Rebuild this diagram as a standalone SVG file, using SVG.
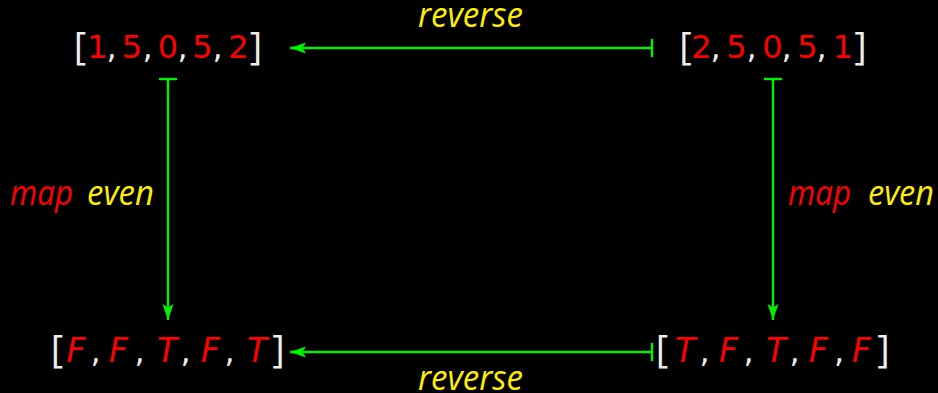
<svg xmlns="http://www.w3.org/2000/svg" width="938" height="393" viewBox="0 0 938 393">
<style>
.num{font-family:"DejaVu Sans",sans-serif;font-size:32px;fill:#ff0000;text-anchor:middle}
.var{font-family:"DejaVu Sans",sans-serif;font-style:italic;font-size:33px;fill:#ff0000;text-anchor:middle}
.pun{font-family:"DejaVu Sans",sans-serif;font-size:32px;fill:#eeeeee;text-anchor:middle}
.br{font-family:"Open Sans",sans-serif;font-size:38px;fill:#eeeeee;text-anchor:middle}
.lbl{font-family:"Open Sans",sans-serif;font-style:italic;font-size:35px}
.red{fill:#ff0000}
.yel{fill:#ffee00}
.conn{stroke:#00f000;stroke-width:2.4;fill:none}
</style>
<defs>
<marker id="head" viewBox="0 0 16 12" refX="16" refY="6" markerWidth="16" markerHeight="12" markerUnits="userSpaceOnUse" orient="auto">
<path d="M0,0.5 L16,6 L0,11.5 L3.5,6 Z" fill="#00f000"/>
</marker>
<marker id="bar" viewBox="0 0 4 20" refX="2" refY="10" markerWidth="4" markerHeight="20" markerUnits="userSpaceOnUse" orient="auto">
<line x1="2" y1="1" x2="2" y2="19" stroke="#00f000" stroke-width="2.4"/>
</marker>
</defs>
<rect width="938" height="393" fill="#000000"/>

<g id="connectors">
<line class="conn" x1="652" y1="48" x2="290" y2="48" marker-start="url(#bar)" marker-end="url(#head)"/>
<line class="conn" x1="652" y1="352" x2="290" y2="352" marker-start="url(#bar)" marker-end="url(#head)"/>
<line class="conn" x1="168" y1="79" x2="168" y2="320" marker-start="url(#bar)" marker-end="url(#head)"/>
<line class="conn" x1="773" y1="79" x2="773" y2="320" marker-start="url(#bar)" marker-end="url(#head)"/>
</g>

<g id="label-reverse-top"><text class="lbl yel" x="418" y="27" textLength="105" lengthAdjust="spacingAndGlyphs">reverse</text></g>
<g id="label-reverse-bottom"><text class="lbl yel" x="418" y="390" textLength="105" lengthAdjust="spacingAndGlyphs">reverse</text></g>
<g id="label-map-left">
<text class="lbl red" x="10" y="205" textLength="63" lengthAdjust="spacingAndGlyphs">map</text>
<text class="lbl yel" x="87" y="205" textLength="67" lengthAdjust="spacingAndGlyphs">even</text>
</g>
<g id="label-map-right">
<text class="lbl red" x="788" y="205" textLength="63" lengthAdjust="spacingAndGlyphs">map</text>
<text class="lbl yel" x="868" y="205" textLength="66" lengthAdjust="spacingAndGlyphs">even</text>
</g>

<g id="node-top-left">
<text class="br" x="80" y="60">[</text>
<text class="num" x="97.5" y="58">1</text>
<text class="pun" x="111.5" y="58">,</text>
<text class="num" x="132" y="58">5</text>
<text class="pun" x="147.5" y="58">,</text>
<text class="num" x="168" y="58">0</text>
<text class="pun" x="182.5" y="58">,</text>
<text class="num" x="202.5" y="58">5</text>
<text class="pun" x="217.5" y="58">,</text>
<text class="num" x="238.5" y="58">2</text>
<text class="br" x="256" y="60">]</text>
</g>

<g id="node-top-right">
<text class="br" x="685.5" y="60">[</text>
<text class="num" x="701.5" y="58">2</text>
<text class="pun" x="715.5" y="58">,</text>
<text class="num" x="736.5" y="58">5</text>
<text class="pun" x="751.5" y="58">,</text>
<text class="num" x="772.5" y="58">0</text>
<text class="pun" x="786.5" y="58">,</text>
<text class="num" x="807.5" y="58">5</text>
<text class="pun" x="821.5" y="58">,</text>
<text class="num" x="843" y="58">1</text>
<text class="br" x="860.5" y="60">]</text>
</g>

<g id="node-bottom-left">
<text class="br" x="57" y="363">[</text>
<text class="var" x="76" y="362">F</text>
<text class="pun" x="95.5" y="362">,</text>
<text class="var" x="118.5" y="362">F</text>
<text class="pun" x="139.5" y="362">,</text>
<text class="var" x="167" y="362">T</text>
<text class="pun" x="185.5" y="362">,</text>
<text class="var" x="210.5" y="362">F</text>
<text class="pun" x="229.5" y="362">,</text>
<text class="var" x="257" y="362">T</text>
<text class="br" x="278.5" y="363">]</text>
</g>

<g id="node-bottom-right">
<text class="br" x="662" y="363">[</text>
<text class="var" x="685" y="362">T</text>
<text class="pun" x="704.5" y="362">,</text>
<text class="var" x="728.5" y="362">F</text>
<text class="pun" x="748.5" y="362">,</text>
<text class="var" x="776" y="362">T</text>
<text class="pun" x="794.5" y="362">,</text>
<text class="var" x="818.5" y="362">F</text>
<text class="pun" x="839" y="362">,</text>
<text class="var" x="861.5" y="362">F</text>
<text class="br" x="883.5" y="363">]</text>
</g>
</svg>
